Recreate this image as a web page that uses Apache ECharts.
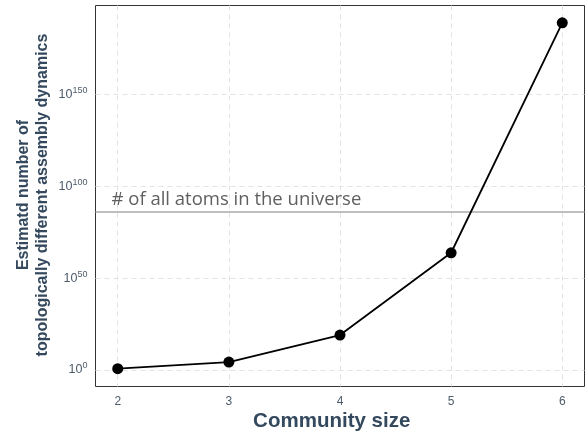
<!DOCTYPE html>
<html><head><meta charset="utf-8">
<script src="https://cdn.jsdelivr.net/npm/echarts@6/dist/echarts.min.js"></script>
<style>html,body{margin:0;padding:0;background:#fff}#c{width:586px;height:436px}</style>
</head><body><div id="c"></div>
<script>
const communitySize = [2, 3, 4, 5, 6];
const log10Count = [0.7, 4.3, 19.0, 63.8, 189.0];
const atomsLog10 = 86;
const atomsLabel = '# of all atoms in the universe';
const xTicks = [2, 3, 4, 5, 6];
const yTicks = [0, 50, 100, 150];
const xTitle = 'Community size';
const yTitle = 'Estimatd number of\ntopologically different assembly dynamics';

const chart = echarts.init(document.getElementById('c'), null, {renderer: 'canvas'});
const titleColor = '#34495e';
const labelColor = '#4d5b6b';
chart.setOption({
  animation: false,
  backgroundColor: '#fff',
  grid: {left: 95.5, right: 1.5, top: 5.5, bottom: 49.5, show: true, borderColor: '#333', borderWidth: 1, containLabel: false},
  xAxis: {
    type: 'value', min: 1.8, max: 6.2,
    axisLine: {show: false},
    axisTick: {show: false, customValues: xTicks},
    axisLabel: {customValues: xTicks, color: labelColor, fontSize: 12, margin: 9, fontFamily: 'Liberation Sans'},
    splitLine: {show: true, lineStyle: {color: '#e3e3e3', type: [5, 4], width: 1}}
  },
  yAxis: {
    type: 'value', min: -9, max: 198.4,
    axisLine: {show: false},
    axisTick: {show: false, customValues: yTicks},
    axisLabel: {
      customValues: yTicks, margin: 8, fontFamily: 'Liberation Sans',
      formatter: v => '{b|10}{s|' + v + '}',
      rich: {
        b: {fontSize: 12.5, color: labelColor, fontFamily: 'Liberation Sans'},
        s: {fontSize: 9, color: labelColor, fontFamily: 'Liberation Sans', padding: [0, 0, 8, 0]}
      }
    },
    splitLine: {show: true, lineStyle: {color: '#e3e3e3', type: [5, 4], width: 1}}
  },
  graphic: [
    {type: 'text', x: 331.7, y: 421.7, style: {text: xTitle, font: 'bold 20.5px "Liberation Sans"', fill: titleColor, align: 'center', verticalAlign: 'middle'}},
    {type: 'text', x: 33.5, y: 195, rotation: Math.PI / 2,
     style: {text: yTitle, font: 'bold 16px "Liberation Sans"', fill: titleColor, align: 'center', verticalAlign: 'middle', lineHeight: 19}}
  ],
  series: [{
    type: 'line',
    data: communitySize.map((x, i) => [x, log10Count[i]]),
    lineStyle: {color: '#000', width: 1.8},
    itemStyle: {color: '#000'},
    symbol: 'circle', symbolSize: 11, showSymbol: true,
    markLine: {
      silent: true, symbol: 'none',
      lineStyle: {color: '#aaaaaa', width: 1.5, type: 'solid'},
      label: {show: true, position: 'insideStartTop', formatter: atomsLabel, color: '#5f5f5f', fontSize: 18.5, fontFamily: 'Open Sans', distance: [16, 3]},
      data: [{yAxis: atomsLog10}]
    },
    z: 5
  }]
});
</script></body></html>
